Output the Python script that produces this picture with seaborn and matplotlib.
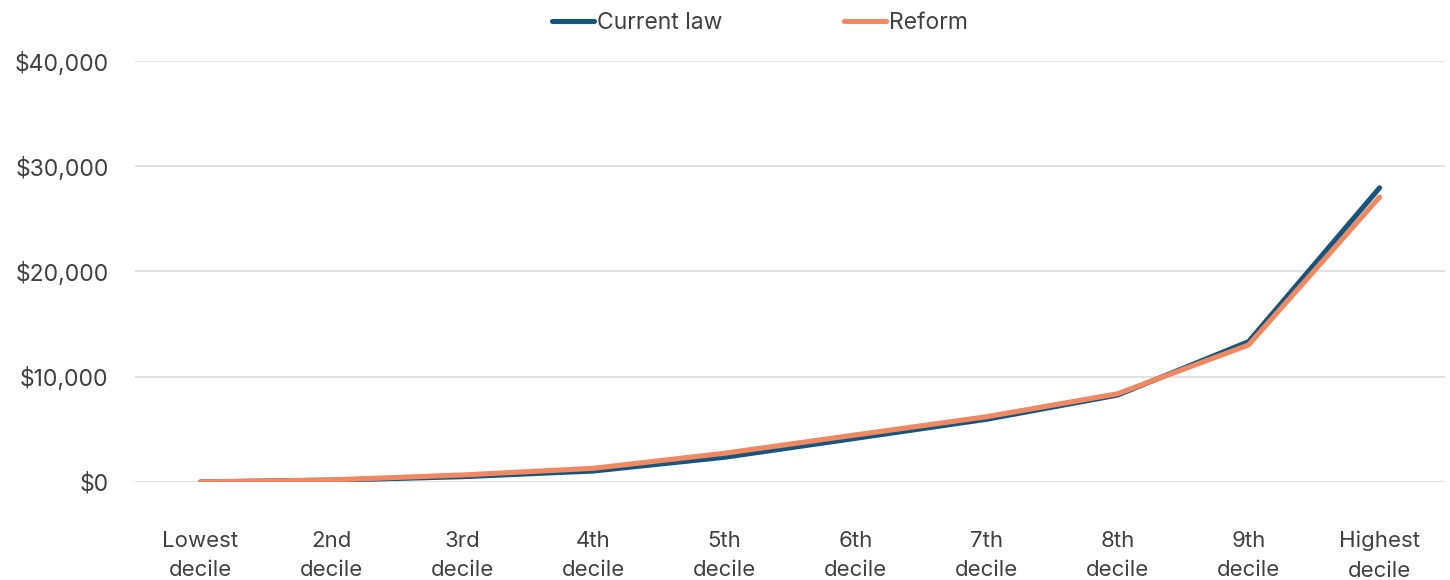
import matplotlib
matplotlib.use("Agg")
import matplotlib.pyplot as plt
import matplotlib.ticker as mticker
import seaborn as sns
import pandas as pd

# Average tax by income decile
deciles = ["Lowest\ndecile", "2nd\ndecile", "3rd\ndecile", "4th\ndecile", "5th\ndecile",
           "6th\ndecile", "7th\ndecile", "8th\ndecile", "9th\ndecile", "Highest\ndecile"]
current_law = [0, 170, 505, 1045, 2350, 4150, 5960, 8260, 13330, 27950]
reform = [0, 200, 665, 1300, 2730, 4470, 6200, 8380, 13020, 27080]
series_names = ["Current law", "Reform"]
series_colors = ["#16557d", "#f08862"]

df = pd.DataFrame({
    "decile": deciles * 2,
    "pos": list(range(len(deciles))) * 2,
    "value": current_law + reform,
    "series": [series_names[0]] * len(deciles) + [series_names[1]] * len(deciles),
})

sns.set_theme(style="white")
plt.rcParams["font.family"] = ["Inter", "DejaVu Sans"]
text_color = "#404040"

fig = plt.figure(figsize=(14.5, 5.8), dpi=100)
ax = fig.add_axes([0.0931, 0.169, 0.9035, 0.7258])

sns.lineplot(data=df, x="pos", y="value", hue="series", palette=series_colors,
             linewidth=3.7, ax=ax, legend=False, sort=False)
for ln in ax.get_lines():
    ln.set_solid_capstyle("round")
    ln.set_solid_joinstyle("round")

ax.set_xlim(-0.5, len(deciles) - 0.5)
ax.set_ylim(0, 40000)
ax.set_yticks([0, 10000, 20000, 30000, 40000])
ax.yaxis.set_major_formatter(mticker.FuncFormatter(lambda v, p: f"${v:,.0f}"))
ax.set_xticks(range(len(deciles)))
ax.set_xticklabels(deciles)
ax.grid(axis="y", color="#d9d9d9", linewidth=1.1)
ax.set_axisbelow(True)
for s in ax.spines.values():
    s.set_visible(False)
ax.tick_params(axis="x", length=0, pad=35, labelsize=16, labelcolor=text_color)
ax.tick_params(axis="y", length=0, pad=19, labelsize=16.5, labelcolor=text_color)
for lbl in ax.get_xticklabels():
    lbl.set_linespacing(1.6)
ax.set_xlabel("")
ax.set_ylabel("")

handles = [plt.Line2D([], [], color=c, linewidth=3.7, solid_capstyle="round") for c in series_colors]
fig.legend(handles, series_names, loc="center", bbox_to_anchor=(0.524, 0.961), ncol=2,
           frameon=False, fontsize=16.5, labelcolor=text_color, handlelength=1.85,
           handletextpad=0.13, columnspacing=5.3)

fig.savefig("out.png", dpi=100)
